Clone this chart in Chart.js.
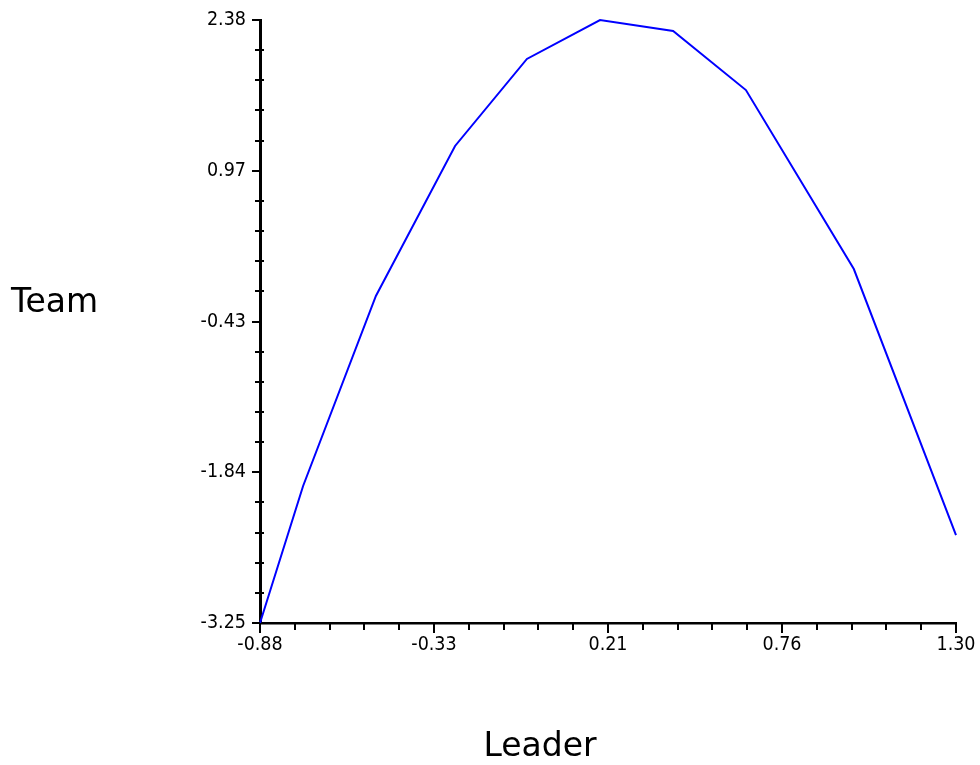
<!DOCTYPE html>
<html>
<head>
<meta charset="utf-8">
<script src="https://cdn.jsdelivr.net/npm/chart.js@4.4.0/dist/chart.umd.min.js"></script>
<style>
html,body{margin:0;padding:0;background:#fff;}
#wrap{width:980px;height:765px;}
</style>
</head>
<body>
<div id="wrap"><canvas id="chart" width="980" height="765"></canvas></div>
<script>
// data
const leaderX = [-0.88, -0.745, -0.517, -0.269, -0.044, 0.185, 0.414, 0.642, 0.980, 1.30];
const teamY = [-3.25, -1.971, -0.197, 1.204, 2.016, 2.38, 2.277, 1.726, 0.055, -2.429];
const xTickLabels = ['-0.88', '-0.33', '0.21', '0.76', '1.30'];
const yTickLabels = ['-3.25', '-1.84', '-0.43', '0.97', '2.38'];
const xRange = [-0.88, 1.30];
const yRange = [-3.25, 2.38];
const minorPerMajor = 5;

const FONT = '"DejaVu Sans", sans-serif';
const TICKFONT = '"DejaVu Sans Condensed", "DejaVu Sans", sans-serif';

function buildTicks(range, labelCount) {
  const n = (labelCount - 1) * minorPerMajor;
  const out = [];
  for (let i = 0; i <= n; i++) out.push({ value: range[0] + i * (range[1] - range[0]) / n });
  return out;
}

const axisTicks = {
  id: 'axisTicks',
  afterDraw(chart) {
    const ctx = chart.ctx;
    const xs = chart.scales.x, ys = chart.scales.y;
    const ca = chart.chartArea;
    ctx.save();
    ctx.strokeStyle = '#000';
    ctx.lineWidth = 2;
    ys.ticks.forEach((t, i) => {
      const py = Math.round(ys.getPixelForValue(t.value));
      ctx.beginPath();
      if (i % minorPerMajor === 0) { ctx.moveTo(ca.left - 8, py); ctx.lineTo(ca.left, py); }
      else { ctx.moveTo(ca.left - 5, py); ctx.lineTo(ca.left + 4, py); }
      ctx.stroke();
    });
    xs.ticks.forEach((t, i) => {
      const px = Math.round(xs.getPixelForValue(t.value));
      ctx.beginPath();
      ctx.moveTo(px, ca.bottom);
      ctx.lineTo(px, ca.bottom + (i % minorPerMajor === 0 ? 10 : 7));
      ctx.stroke();
    });
    // axis titles
    ctx.fillStyle = '#000';
    ctx.font = '33px ' + FONT;
    ctx.textAlign = 'left';
    ctx.textBaseline = 'alphabetic';
    ctx.fillText('Team', 11, 312);
    ctx.textAlign = 'center';
    ctx.fillText('Leader', 540, 756);
    ctx.restore();
  }
};

new Chart(document.getElementById('chart'), {
  type: 'scatter',
  data: {
    datasets: [{
      data: leaderX.map((x, i) => ({ x: x, y: teamY[i] })),
      showLine: true,
      borderColor: '#0000ff',
      borderWidth: 2,
      pointRadius: 0,
      pointHoverRadius: 0,
      tension: 0,
      clip: false
    }]
  },
  options: {
    responsive: false,
    animation: false,
    events: [],
    layout: { padding: { left: 0, top: 20, right: 24, bottom: 0 } },
    plugins: { legend: { display: false }, tooltip: { enabled: false } },
    scales: {
      x: {
        type: 'linear',
        min: xRange[0], max: xRange[1],
        afterBuildTicks: s => { s.ticks = buildTicks(xRange, xTickLabels.length); },
        afterFit: s => { s.height = 142; },
        grid: { display: true, drawOnChartArea: false, drawTicks: true, tickLength: 10, color: 'rgba(0,0,0,0)', tickColor: 'rgba(0,0,0,0)' },
        border: { display: true, color: '#000', width: 2.5 },
        ticks: {
          autoSkip: false, maxRotation: 0, padding: 0,
          color: '#000', font: { family: TICKFONT, size: 19.5 },
          callback: (v, i) => i % minorPerMajor === 0 ? xTickLabels[i / minorPerMajor] : ''
        }
      },
      y: {
        type: 'linear',
        min: yRange[0], max: yRange[1],
        afterBuildTicks: s => { s.ticks = buildTicks(yRange, yTickLabels.length); },
        afterFit: s => { s.width = 260; },
        grid: { display: true, drawOnChartArea: false, drawTicks: true, tickLength: 8, color: 'rgba(0,0,0,0)', tickColor: 'rgba(0,0,0,0)' },
        border: { display: true, color: '#000', width: 3 },
        ticks: {
          autoSkip: false, padding: 6,
          color: '#000', font: { family: TICKFONT, size: 19.5 },
          callback: (v, i) => i % minorPerMajor === 0 ? yTickLabels[i / minorPerMajor] : ''
        }
      }
    }
  },
  plugins: [axisTicks]
});
</script>
</body>
</html>
